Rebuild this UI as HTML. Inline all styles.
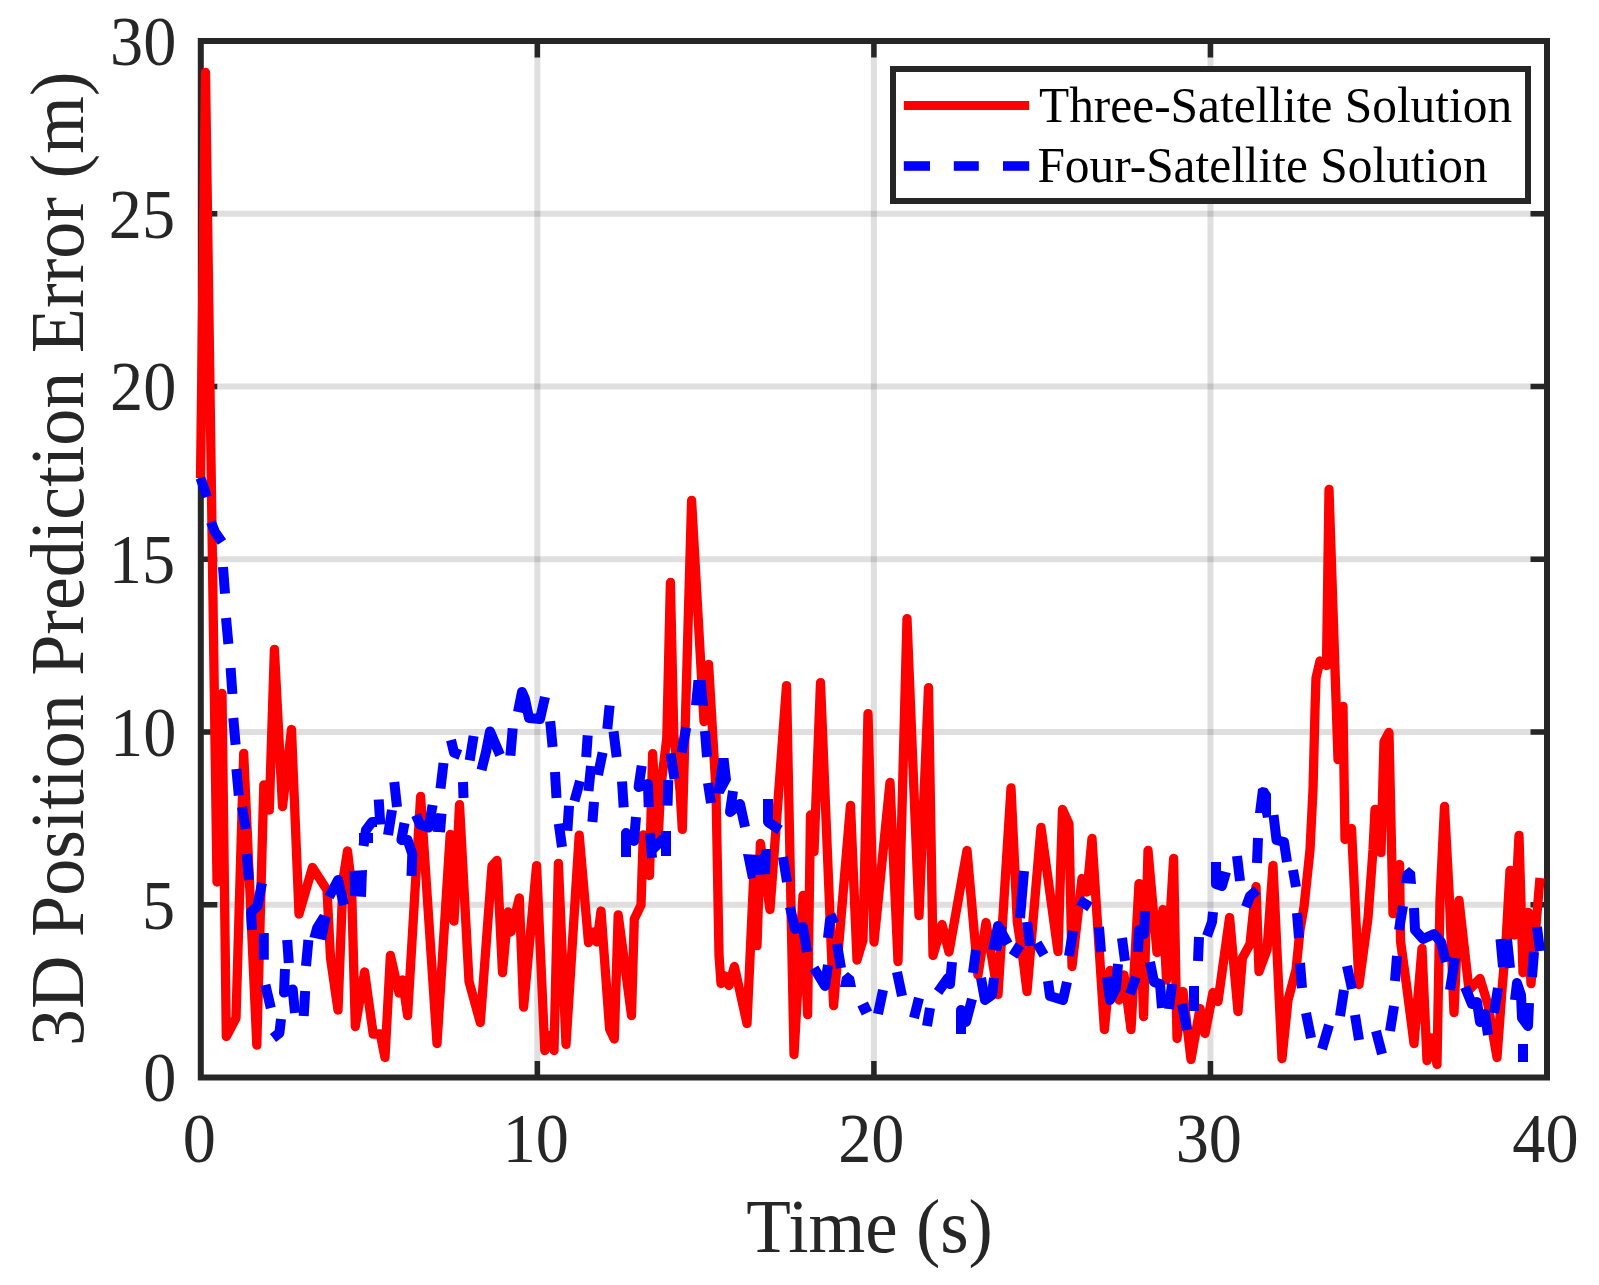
<!DOCTYPE html>
<html><head><meta charset="utf-8"><title>3D Position Prediction Error</title>
<style>html,body{margin:0;padding:0;background:#fff}svg{display:block}text{font-family:"Liberation Serif","Times New Roman",serif}</style></head><body>
<svg width="1599" height="1285" viewBox="0 0 1599 1285">
<rect width="1599" height="1285" fill="#fff"/>
<g stroke="#262626" stroke-opacity="0.15" stroke-width="6" fill="none"><line x1="537.35" y1="41" x2="537.35" y2="1077.5"/><line x1="873.9" y1="41" x2="873.9" y2="1077.5"/><line x1="1210.45" y1="41" x2="1210.45" y2="1077.5"/><line x1="200.8" y1="904.75" x2="1547" y2="904.75"/><line x1="200.8" y1="732" x2="1547" y2="732"/><line x1="200.8" y1="559.25" x2="1547" y2="559.25"/><line x1="200.8" y1="386.5" x2="1547" y2="386.5"/><line x1="200.8" y1="213.75" x2="1547" y2="213.75"/></g>
<g stroke="#262626" stroke-width="5.5" fill="none"><line x1="537.35" y1="1077.5" x2="537.35" y2="1061"/><line x1="537.35" y1="41" x2="537.35" y2="57.5"/><line x1="873.9" y1="1077.5" x2="873.9" y2="1061"/><line x1="873.9" y1="41" x2="873.9" y2="57.5"/><line x1="1210.45" y1="1077.5" x2="1210.45" y2="1061"/><line x1="1210.45" y1="41" x2="1210.45" y2="57.5"/><line x1="200.8" y1="904.75" x2="217.3" y2="904.75"/><line x1="1547" y1="904.75" x2="1530.5" y2="904.75"/><line x1="200.8" y1="732" x2="217.3" y2="732"/><line x1="1547" y1="732" x2="1530.5" y2="732"/><line x1="200.8" y1="559.25" x2="217.3" y2="559.25"/><line x1="1547" y1="559.25" x2="1530.5" y2="559.25"/><line x1="200.8" y1="386.5" x2="217.3" y2="386.5"/><line x1="1547" y1="386.5" x2="1530.5" y2="386.5"/><line x1="200.8" y1="213.75" x2="217.3" y2="213.75"/><line x1="1547" y1="213.75" x2="1530.5" y2="213.75"/></g>
<rect x="200.8" y="41" width="1346.2" height="1036.5" fill="none" stroke="#262626" stroke-width="6"/>
<g fill="none" stroke-linejoin="round">
<polyline stroke="#ff0000" stroke-width="9.3" stroke-linecap="butt" points="200.5,478 205.5,72.5 217,882 222,693.5 226.3,1036.5 236,1018 243.7,753.5 256.8,1045 263.8,785 269.3,810 274.4,649.5 282.5,806.5 291.5,729.5 299,914 312.5,867.4 327,890 330.5,958 338,1010 343,880 347.5,851 351.5,885 355.3,1026.5 364.6,972 373.2,1034 380.3,1034 385,1057.5 390.4,955.5 399,993 402.5,980 407.6,1015.5 420.6,796.5 437,1043.5 450.2,834.5 454,921 459.5,804.7 469,981.6 480.3,1022.5 492,866 497,860.5 502.5,972.5 508,912 511,932 519.3,898 523.6,1007 536.6,865.7 544.8,1050.5 549.4,1035.5 554,1050.5 558.4,863.4 566,1044.4 579.2,835.2 588.5,942.7 593.2,932 597,942 601,911 609.6,1029 614.3,1039 618.2,915 631.5,1015.5 634.3,919 641,905 643.3,835 649.5,875.5 652.6,753.6 658,842 660.5,790 666.8,738 670.4,582.5 673.8,735 680,790 682.3,829.3 691.6,500.5 704,721.5 708.6,664.5 716,790 719,955 721,983.5 725,976 729,985.5 734.4,966.5 747,1023.5 754,870 757,945.5 760.4,843.5 770,909.5 786.5,685.6 794,1054.5 803,895.5 807.6,1014.5 810.5,815 814,851.5 820.5,682.6 833.6,1005.5 850.5,805.5 857,960 863,940 868,713.6 874,942 890,782.5 898,961.5 907,618.6 919,915.5 928.5,687.6 933,955.5 942,924.5 949,952 967,850.5 978,975 986,922.5 998,994.5 1011,788 1017.3,922 1023.4,962 1027,991.5 1041,827.5 1058,951.5 1062.5,809.5 1069,824 1072,966.5 1082,878.5 1087,892 1092,838.5 1104.4,1029.5 1110,970.5 1119,1000 1124,975 1131,1029.5 1139,883.6 1143.6,1016.5 1148,850.5 1157,952.5 1163,909.5 1166.5,980 1173.6,858.5 1177,1038.5 1183,991.5 1191,1059.5 1200,1008.5 1205,1033.5 1213,992.5 1218,1001.5 1229.6,917.5 1238,1011.5 1242.4,958 1250,944 1256,886.5 1259,971.5 1267,950 1273,865.5 1282,1058.5 1288,1000 1296,970 1300,930 1304,907 1310,850 1313,790 1315,710 1316,678 1320,661 1326.5,665.5 1329,489.5 1338,759.5 1343,706.5 1345,839.5 1351.5,828.5 1359,984.5 1368,918 1373,850 1375,809.5 1381,852.5 1384,742 1389,732.5 1393,913.6 1399.6,864.5 1400.5,941 1406.5,985 1414,1043.5 1422,948.5 1427,1060.5 1432,1038 1437,1064.5 1440,900 1444.5,806.5 1449.5,900 1454,1012.5 1459,900.5 1469,990 1480,978.5 1488,1005 1497,1057.5 1502,990 1506,942 1510,870.5 1514,935 1519,835.5 1523,972.5 1528,912.5 1531,983.5 1540,878"/>
<g stroke="#0000ff" stroke-width="10" stroke-linecap="butt" stroke-linejoin="round">
<polyline points="200.5,478 207,497"/>
<polyline points="211,522 215,532 222,542"/>
<polyline points="223,567 225,593.6"/>
<polyline points="226,618 228.4,644"/>
<polyline points="230.6,668 232.4,694"/>
<polyline points="233.3,718 235.6,744.7"/>
<polyline points="236.4,769 238.8,795.5"/>
<polyline points="242,807 245.8,829"/>
<polyline points="246.6,854 249,880"/>
<polyline points="262,883 257.5,906 251,912 252,930"/>
<polyline points="263.8,933 263.8,959.7"/>
<polyline points="265.4,984.8 270.8,1008"/>
<polyline points="281,1019 279.4,1033 273,1038"/>
<polyline points="287.2,940 288.8,963"/>
<polyline points="285,969 284,992.6 292.7,989.4 295,1013"/>
<polyline points="305.2,991 303.7,1016"/>
<polyline points="308.4,940 306,966"/>
<polygon fill="#0000ff" stroke="none" points="320,914 330.5,917.5 326,940.5 309.5,937 312.5,926"/>
<polyline points="329,897 338,880 344,905"/>
<polygon fill="#0000ff" stroke="none" points="349.5,871 367,870 366,897 350,896"/>
<polyline points="359,838 373,838"/>
<polyline points="363.5,846 366,830 372,822 377,822"/>
<polyline points="378.7,799.5 380.3,824.5"/>
<polyline points="388,835 392,810"/>
<polyline points="394.3,782 397,807"/>
<polyline points="404.5,823 401.4,840 407.6,840 412.3,854 411.5,876"/>
<polyline points="416,815 420,824.5 428.7,827.6 432.6,805"/>
<polyline points="439,814 438,832"/>
<polyline points="443.5,763 440.5,788.5"/>
<polyline points="441.5,813.5 440,832"/>
<polyline points="451,740 454,752.5 460.3,755"/>
<polyline points="463,782 463.5,798"/>
<polyline points="473.6,736 469.7,760.4"/>
<polyline points="481.5,770 486,752 490,731.5 500,755"/>
<polyline points="512.7,728.3 510.4,755.7"/>
<polyline points="518,712 522,692 525,699 529,718 540,719 545,697"/>
<polyline points="550.2,721.3 552.6,747"/>
<polyline points="555,772 556.5,798"/>
<polyline points="558.8,823.7 562,847"/>
<polyline points="567.4,830.7 569,805.7"/>
<polyline points="574.5,801 580,781"/>
<polyline points="588.5,791 591,766"/>
<polyline points="598,775 602.6,752.5"/>
<polyline points="587.7,735.3 586.2,757.2"/>
<polyline points="594,801.8 592.4,822"/>
<polyline points="609.6,705.6 607.3,729"/>
<polyline points="613.5,731.4 616.7,757.2"/>
<polyline points="622,781.5 623.7,807.3"/>
<polyline points="626,857 626,833 634,841 636,817"/>
<polyline points="641.7,765.8 638.6,787 648,784 648.7,807"/>
<polyline points="650,833 652,858"/>
<polyline points="652,850 664,838"/>
<polyline points="666,831 666,856"/>
<polyline points="668.3,780 667.5,805.7"/>
<polyline points="670.6,753.3 674.5,779"/>
<polyline points="686.2,727.5 681.6,752.5"/>
<polygon fill="#0000ff" stroke="none" points="693.5,680 705.5,680 708,706 691,705"/>
<polyline points="705,731 707,757"/>
<polyline points="708,783 711,803"/>
<polygon fill="#0000ff" stroke="none" points="718.5,758 728.5,758 731,780 723.5,794 713.5,793"/>
<polyline points="733,791 730,812 740,804 745,827"/>
<polyline points="768,799 768,822 780,830"/>
<polygon fill="#0000ff" stroke="none" points="743,854 760,855 762,849 771,849 770,874 756,875 755,878 748,879"/>
<polyline points="783,857 787,882"/>
<polyline points="790,907 795,929 803,927 807,952"/>
<polyline points="814,968 825,986 828,965"/>
<polyline points="828,938 830,920 837,917"/>
<polyline points="837,944 841,968"/>
<polygon fill="#0000ff" stroke="none" points="840,987 842,977 848,972 854,977 856,987"/>
<polyline points="859.6,1011 870,1006"/>
<polyline points="883,990 878,1014"/>
<polyline points="897,972 902,996"/>
<polyline points="919,998 914,1018"/>
<polyline points="930,1008 927,1026"/>
<polyline points="938,992 948,978 950,984 952,962"/>
<polyline points="961,1034 961,1010 966,1022 972,999"/>
<polyline points="976,950 973,973"/>
<polyline points="981,978 985,1000 992,995 994,978"/>
<polyline points="996,950 1002,926"/>
<polyline points="993,950 998,926 1008,944"/>
<polyline points="1024,871 1020,918"/>
<polyline points="1027,922 1030,946"/>
<polyline points="1013,956 1020,945"/>
<polyline points="1037,943 1044,955"/>
<polyline points="1048,981 1050,996 1063,1000 1067,982"/>
<polyline points="1073,931 1069,956"/>
<polyline points="1079,900 1090,907"/>
<polyline points="1099,927 1101,952"/>
<polyline points="1122,938 1125,961"/>
<polyline points="1107,977 1110,1000 1116,988 1118,964"/>
<polyline points="1130,994 1136,977"/>
<polyline points="1138,952 1139,930 1144,934 1145,911"/>
<polyline points="1150,962 1154,982 1160,984 1162,1008"/>
<polyline points="1172,984 1169,1009"/>
<polyline points="1194,986 1194,1011"/>
<polyline points="1182,1004 1187,1030"/>
<polyline points="1199,937 1198,961"/>
<polyline points="1213,912 1212,922 1207,936"/>
<polyline points="1216,862 1216,884 1222,886 1226,872"/>
<polyline points="1237,856 1240,881"/>
<polyline points="1258,838 1257,863"/>
<polyline points="1257,890 1250,896 1246,907"/>
<polygon fill="#0000ff" stroke="none" points="1255,813 1258,789 1262,787 1267,788 1271,794 1271,817 1263,818 1262,813"/>
<polyline points="1273.5,815 1276.5,840 1284,842 1287,862"/>
<polyline points="1293,870 1296,887"/>
<polyline points="1297,913 1299,938"/>
<polyline points="1300,963 1302,988"/>
<polyline points="1306,1013 1311,1038"/>
<polyline points="1329,1025 1322,1049"/>
<polyline points="1344,990 1340,1016"/>
<polyline points="1347,966 1352,989"/>
<polyline points="1355,1015 1359,1040"/>
<polyline points="1376,1031 1382,1054"/>
<polyline points="1394,1006 1390,1031"/>
<polyline points="1397,956 1395,981"/>
<polyline points="1403,906 1399,930"/>
<polygon fill="#0000ff" stroke="none" points="1401,883 1403,872 1409,867 1415,872 1416,884"/>
<polyline points="1414,908 1415,930 1423,939 1434,934 1441,942 1446,962"/>
<polyline points="1455,958 1450,990"/>
<polyline points="1465,987 1472,1004 1477,1002 1480,1022 1485,1014 1488,1035"/>
<polyline points="1498,988 1494,1013"/>
<polyline points="1500.5,939 1503,967"/>
<polyline points="1507,939 1510,968"/>
<polyline points="1515,1000 1517,983 1521,995 1522,1018 1528,1026 1529,1003"/>
<polyline points="1534,952 1532,977"/>
<polyline points="1537,927 1540,951"/>
<polyline points="1523,1044 1523,1062"/>
</g></g>
<text transform="translate(199.2,1162.4) scale(0.96,1)" font-size="69" text-anchor="middle" fill="#262626">0</text>
<text transform="translate(535.75,1162.4) scale(0.96,1)" font-size="69" text-anchor="middle" fill="#262626">10</text>
<text transform="translate(871.3,1162.4) scale(0.96,1)" font-size="69" text-anchor="middle" fill="#262626">20</text>
<text transform="translate(1208.85,1162.4) scale(0.96,1)" font-size="69" text-anchor="middle" fill="#262626">30</text>
<text transform="translate(1545.4,1162.4) scale(0.96,1)" font-size="69" text-anchor="middle" fill="#262626">40</text>
<text transform="translate(176.3,1101.3) scale(0.96,1)" font-size="69" text-anchor="end" fill="#262626">0</text>
<text transform="translate(175.1,928.55) scale(0.96,1)" font-size="69" text-anchor="end" fill="#262626">5</text>
<text transform="translate(176.3,755.8) scale(0.96,1)" font-size="69" text-anchor="end" fill="#262626">10</text>
<text transform="translate(175.1,583.05) scale(0.96,1)" font-size="69" text-anchor="end" fill="#262626">15</text>
<text transform="translate(176.3,410.3) scale(0.96,1)" font-size="69" text-anchor="end" fill="#262626">20</text>
<text transform="translate(175.1,237.55) scale(0.96,1)" font-size="69" text-anchor="end" fill="#262626">25</text>
<text transform="translate(176.3,64.8) scale(0.96,1)" font-size="69" text-anchor="end" fill="#262626">30</text>
<text transform="translate(869.6,1251.6) scale(0.96,1)" font-size="76" text-anchor="middle" fill="#262626">Time (s)</text>
<text transform="translate(82.5,558.8) rotate(-90) scale(0.974,1)" font-size="76" text-anchor="middle" fill="#262626">3D Position Prediction Error (m)</text>
<rect x="893" y="69" width="635" height="132" fill="#fff" stroke="#262626" stroke-width="6"/>
<line x1="903.8" y1="105.4" x2="1029.2" y2="105.4" stroke="#ff0000" stroke-width="9"/>
<g stroke="#0000ff" stroke-width="9.6"><line x1="903.8" y1="166" x2="930" y2="166"/><line x1="953.8" y1="166" x2="978.8" y2="166"/><line x1="1003" y1="166" x2="1029.2" y2="166"/></g>
<text transform="translate(1039,121.7) scale(0.978,1)" font-size="50.5" text-anchor="start" fill="#000">Three-Satellite Solution</text>
<text transform="translate(1037.4,182.3) scale(0.978,1)" font-size="50.5" text-anchor="start" fill="#000">Four-Satellite Solution</text>
</svg></body></html>
